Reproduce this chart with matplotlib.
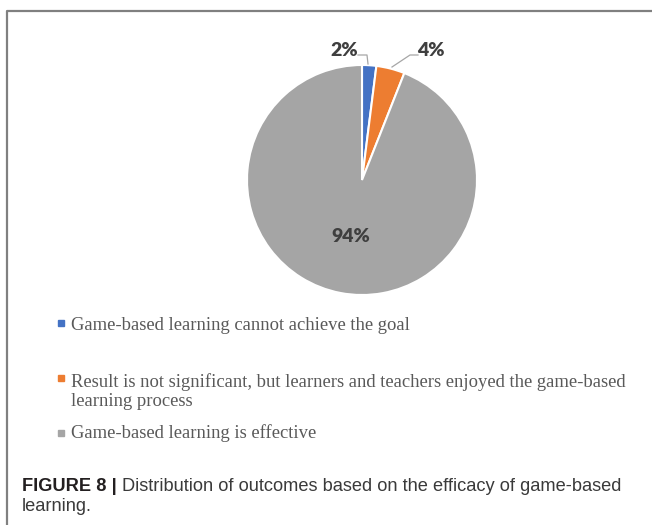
import matplotlib
matplotlib.use("Agg")
import matplotlib.pyplot as plt
from matplotlib.patches import Rectangle
from matplotlib.lines import Line2D

categories = [
    "Game-based learning cannot achieve the goal",
    "Result is not significant, but learners and teachers enjoyed the game-based\nlearning process",
    "Game-based learning is effective",
]
values = [2, 4, 94]
labels = ["2%", "4%", "94%"]
colors = ["#4472C4", "#ED7D31", "#A5A5A5"]
caption_bold = "FIGURE 8 |"
caption_line1 = "Distribution of outcomes based on the efficacy of game-based"
caption_line2 = "learning."

W, H = 652, 525
fig = plt.figure(figsize=(W / 100, H / 100), dpi=100)
fig.patch.set_facecolor("white")

def fx(px):
    return px / W

def fy(py):
    return 1 - py / H

# border
fig.add_artist(Line2D([fx(7), fx(7), fx(652)], [fy(525), fy(11), fy(11)],
                      color="#808080", lw=1.6, transform=fig.transFigure))

# pie axes
cx, cy, R = 362, 180, 115
L = 1.35
size = 2 * L * R
ax = fig.add_axes([fx(cx - L * R), fy(cy + L * R), size / W, size / H])
wedges, _ = ax.pie(values, colors=colors, startangle=90, counterclock=False,
                   radius=1.0, wedgeprops=dict(edgecolor="white", linewidth=1.5))
ax.set_xlim(-L, L)
ax.set_ylim(-L, L)
ax.set_aspect("equal")
ax.axis("off")

lab_font = dict(family=["Lato", "DejaVu Sans"], fontweight="heavy", fontsize=14, color="#3F3F3F")

def to_data(px, py):
    return (px - cx) / R, (cy - py) / R

# 2% label and leader
x, y = to_data(344, 50)
ax.text(x, y, labels[0], ha="center", va="center", **lab_font)
pts = [to_data(358, 55), to_data(367, 55), to_data(368, 64)]
ax.plot([p[0] for p in pts], [p[1] for p in pts], color="#A6A6A6", lw=0.9)
# 4% label and leader
x, y = to_data(431, 50)
ax.text(x, y, labels[1], ha="center", va="center", **lab_font)
pts = [to_data(392, 67), to_data(410, 55), to_data(418, 55)]
ax.plot([p[0] for p in pts], [p[1] for p in pts], color="#A6A6A6", lw=0.9)
# 94%
x, y = to_data(351, 236)
ax.text(x, y, labels[2], ha="center", va="center", **lab_font)

# legend
marker_y = [320, 375, 430]
base_y = [330, 385, 438]
for cat, col, my, by in zip(categories, colors, marker_y, base_y):
    fig.add_artist(Rectangle((fx(58), fy(my + 6)), 6 / W, 6 / H, color=col,
                             transform=fig.transFigure))
    nlines = cat.count("\n")
    fig.text(fx(71), fy(by + 21 * nlines), cat, ha="left", va="baseline",
             family=["Liberation Serif", "DejaVu Serif"], fontsize=13.4,
             color="#595959", linespacing=1.12)

# caption
cap_font = ["Liberation Sans", "DejaVu Sans"]
fs = 13.0
t1 = fig.text(fx(22), fy(491), caption_bold, ha="left", va="baseline",
              family=cap_font, fontweight="bold", fontsize=fs, color="#231F20")
t2 = fig.text(0, fy(491), caption_line1, ha="left", va="baseline",
              family=cap_font, fontsize=fs, color="#3a3a3a")
fig.canvas.draw()
r = fig.canvas.get_renderer()
gap = 5
w1 = t1.get_window_extent(r).width
w2 = t2.get_window_extent(r).width
scale = (620 - 22 - gap) / (w1 + w2)
fs2 = fs * scale
t1.set_fontsize(fs2)
t2.set_fontsize(fs2)
fig.canvas.draw()
bb = t1.get_window_extent(r)
t2.set_x((bb.x1 + gap) / W)
fig.text(fx(22), fy(511), caption_line2, ha="left", va="baseline",
         family=cap_font, fontsize=fs2, color="#3a3a3a")

fig.savefig("out.png", dpi=100)
